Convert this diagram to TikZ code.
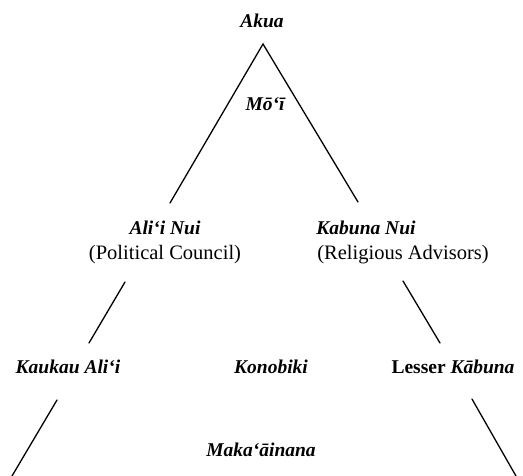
\documentclass[tikz,border=0pt]{standalone}
\usepackage{fontspec}
\setmainfont{Liberation Serif}
\begin{document}
\begin{tikzpicture}[x=1pt,y=-1pt,
  lbl/.style={font=\fontsize{19.5}{22}\selectfont\bfseries\itshape, inner sep=0pt},
  sub/.style={font=\fontsize{20.5}{23}\selectfont, inner sep=0pt},
  ln/.style={line width=1.3pt, line cap=round}]
\useasboundingbox (0,0) rectangle (523,475);
\node[lbl] (akua) at (262,21) {Akua};
\node[lbl] (moi) at (265,104) {Mō‘ī};
\node[lbl] (alii) at (165,228) {Ali‘i Nui};
\node[sub] (pol) at (165,255) {(Political Council)};
\node[lbl] (kab) at (366,228) {Kabuna Nui};
\node[sub] (rel) at (403,255) {(Religious Advisors)};
\node[lbl] (kauk) at (68,367) {Kaukau Ali‘i};
\node[lbl] (kono) at (271,367) {Konobiki};
\node[lbl] (less) at (453,367) {{\upshape Lesser} Kābuna};
\node[lbl] (maka) at (261,450) {Maka‘āinana};
\coordinate (apex) at (263,44);
\coordinate (l1) at (170,203);
\coordinate (r1) at (358,202);
\coordinate (l2a) at (125,282);
\coordinate (l2b) at (89,343);
\coordinate (r2a) at (403,281);
\coordinate (r2b) at (440,343);
\coordinate (l3a) at (57,400);
\coordinate (l3b) at (12,476);
\coordinate (r3a) at (472,399);
\coordinate (r3b) at (516,476);
\draw[ln] (l1) -- (apex) -- (r1);
\draw[ln] (l2a) -- (l2b);
\draw[ln] (r2a) -- (r2b);
\draw[ln] (l3a) -- (l3b);
\draw[ln] (r3a) -- (r3b);
\end{tikzpicture}
\end{document}
